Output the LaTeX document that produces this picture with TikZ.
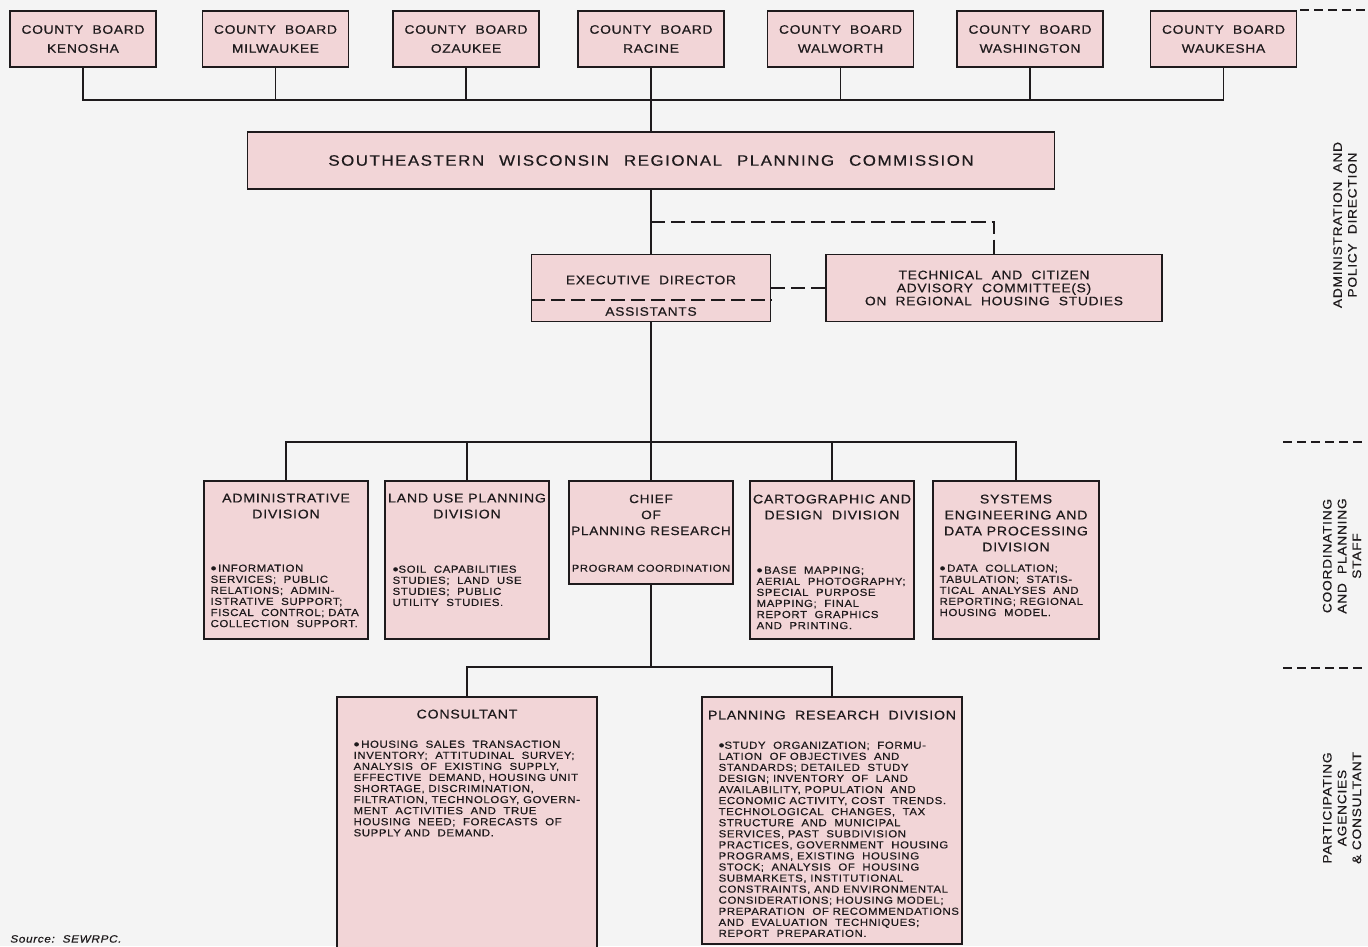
\documentclass[tikz,border=0pt]{standalone}
\usepackage{fontspec}
\setmainfont{Liberation Sans}
\newfontfamily\chartfont[FakeStretch=1.12,LetterSpace=6,FakeBold=0.5]{Liberation Sans}
\newfontfamily\wideletters[FakeStretch=1.12,LetterSpace=10,FakeBold=0.5]{Liberation Sans}
\newcommand{\itembullet}{\raisebox{-0.9pt}{\fontsize{8.5}{0}\selectfont•}}
\usepackage{tikz}
\usetikzlibrary{positioning, calc}
\usepackage{xcolor}
\definecolor{paperbg}{RGB}{244, 244, 244}
\definecolor{boxpink}{RGB}{242, 213, 215}
\definecolor{inkline}{RGB}{30, 26, 28}

\begin{document}
\begin{tikzpicture}[
    x=0.02cm, y=-0.02cm,
    every node/.style={font=\chartfont, text=inkline},
    orgbox/.style={draw=inkline, fill=boxpink, line width=0.85pt, inner sep=0pt},
    county/.style={orgbox, minimum width=2.92cm, minimum height=1.12cm, align=center,
      font=\chartfont\fontsize{7}{10.8}\selectfont},
    division/.style={orgbox, minimum width=3.28cm, minimum height=3.16cm},
    lowerbox/.style={orgbox, minimum width=5.2cm},
    boxtitle/.style={anchor=north, align=center, inner sep=0pt,
      font=\chartfont\fontsize{7.2}{9.1}\selectfont},
    boxbody/.style={anchor=north west, align=left, inner sep=0pt,
      font=\chartfont\fontsize{5.8}{6.3}\selectfont},
    sidelabel/.style={rotate=90, align=center, font=\chartfont\fontsize{7}{8.4}\selectfont},
    link/.style={draw=inkline, line width=0.85pt},
    advisory/.style={link, dash pattern=on 8pt off 3.4pt},
    divider/.style={draw=inkline, line width=0.8pt, dash pattern=on 5pt off 3pt}
  ]
    % Page background
    \useasboundingbox (0,0) rectangle (1368,946);
    \fill[paperbg] (0,0) rectangle (1368,946);

    % County boards
    \node[county] (ken) at (83,39)     {COUNTY\ \ BOARD\\KENOSHA};
    \node[county] (mil) at (275.5,39)  {COUNTY\ \ BOARD\\MILWAUKEE};
    \node[county] (oza) at (466,39)    {COUNTY\ \ BOARD\\OZAUKEE};
    \node[county] (rac) at (651,39)    {COUNTY\ \ BOARD\\RACINE};
    \node[county] (wal) at (840.5,39)  {COUNTY\ \ BOARD\\WALWORTH};
    \node[county] (was) at (1030,39)   {COUNTY\ \ BOARD\\WASHINGTON};
    \node[county] (wau) at (1223.5,39) {COUNTY\ \ BOARD\\WAUKESHA};

    % Commission
    \node[orgbox, minimum width=16.14cm, minimum height=1.14cm,
          font=\wideletters\fontsize{8.6}{10}\selectfont] (com) at (651,160.5)
      {SOUTHEASTERN\hspace{5pt} WISCONSIN\hspace{5pt} REGIONAL\hspace{5pt} PLANNING\hspace{5pt} COMMISSION};

    % Executive director and advisory committee
    \node[orgbox, minimum width=4.78cm, minimum height=1.34cm] (exec) at (651,288) {};
    \node[font=\chartfont\fontsize{7}{8}\selectfont, inner sep=0pt] (execT)
      at ($(exec.center)+(0,-8)$) {EXECUTIVE\ \ DIRECTOR};
    \node[font=\chartfont\fontsize{7}{8}\selectfont, inner sep=0pt] (execA)
      at ($(exec.center)+(0,23.5)$) {ASSISTANTS};
    \draw[advisory] ($(exec.south west)+(0,-22)$) -- ($(exec.south east)+(0,-22)$);

    \node[orgbox, minimum width=6.72cm, minimum height=1.34cm, align=center,
          font=\chartfont\fontsize{7}{7.4}\selectfont] (adv) at (994,288)
      {TECHNICAL\ \ AND\ \ CITIZEN\\ADVISORY\ \ COMMITTEE(S)\\ON\ \ REGIONAL\ \ HOUSING\ \ STUDIES};

    % Coordinating and planning staff
    \node[division] (adm) at (286,560) {};
    \node[division] (land) at (467,560) {};
    \node[orgbox, minimum width=3.28cm, minimum height=2.06cm] (chief) at (651,532.5) {};
    \node[division] (carto) at (832,560) {};
    \node[division, minimum width=3.32cm] (sys) at (1016,560) {};

    \node[boxtitle] (admT) at ($(adm.north)+(0,13)$) {ADMINISTRATIVE\\DIVISION};
    \node[boxtitle] (landT) at ($(land.north)+(0,13)$) {LAND USE PLANNING\\DIVISION};
    \node[boxtitle, font=\chartfont\fontsize{6.9}{9.1}\selectfont] (chiefT)
      at ($(chief.north)+(0,14)$) {CHIEF\\OF\\PLANNING RESEARCH};
    \node[font=\chartfont\fontsize{5.7}{7}\selectfont, inner sep=0pt] (chiefP)
      at ($(chief.north)+(0,88)$) {PROGRAM\ COORDINATION};
    \node[boxtitle] (cartoT) at ($(carto.north)+(0,14)$) {CARTOGRAPHIC AND\\DESIGN\ \ DIVISION};
    \node[boxtitle] (sysT) at ($(sys.north)+(0,14)$) {SYSTEMS\\ENGINEERING AND\\DATA PROCESSING\\DIVISION};

    \node[boxbody] (admB) at ($(adm.north west)+(7,84)$)
      {\itembullet\,INFORMATION\\SERVICES;\ \ PUBLIC\\RELATIONS;\ \ ADMIN-\\ISTRATIVE\ \ SUPPORT;\\FISCAL\ \ CONTROL;\ DATA\\COLLECTION\ \ SUPPORT.};
    \node[boxbody] (landB) at ($(land.north west)+(8,85)$)
      {\itembullet SOIL\ \ CAPABILITIES\\STUDIES;\ \ LAND\ \ USE\\STUDIES;\ \ PUBLIC\\UTILITY\ \ STUDIES.};
    \node[boxbody] (cartoB) at ($(carto.north west)+(7,86)$)
      {\itembullet\,BASE\ \ MAPPING;\\AERIAL\ \ PHOTOGRAPHY;\\SPECIAL\ \ PURPOSE\\MAPPING;\ \ FINAL\\REPORT\ \ GRAPHICS\\AND\ \ PRINTING.};
    \node[boxbody] (sysB) at ($(sys.north west)+(7,84)$)
      {\itembullet\,DATA\ \ COLLATION;\\TABULATION;\ \ STATIS-\\TICAL\ \ ANALYSES\ \ AND\\REPORTING;\ REGIONAL\\HOUSING\ \ MODEL.};

    % Participating agencies and consultant
    \node[lowerbox, minimum height=5.1cm] (cons) at (467,824.5) {};
    \node[lowerbox, minimum height=4.94cm] (res) at (832,820.5) {};

    \node[boxtitle] (consT) at ($(cons.north)+(0,13)$) {CONSULTANT};
    \node[boxtitle] (resT) at ($(res.north)+(0,14)$) {PLANNING\ \ RESEARCH\ \ DIVISION};

    \node[boxbody] (consB) at ($(cons.north west)+(17,44)$)
      {\itembullet\,HOUSING\ \ SALES\ \ TRANSACTION\\INVENTORY;\ \ ATTITUDINAL\ \ SURVEY;\\ANALYSIS\ \ OF\ \ EXISTING\ \ SUPPLY,\\EFFECTIVE\ \ DEMAND,\ HOUSING\ UNIT\\SHORTAGE,\ DISCRIMINATION,\\FILTRATION,\ TECHNOLOGY,\ GOVERN-\\MENT\ \ ACTIVITIES\ \ AND\ \ TRUE\\HOUSING\ \ NEED;\ \ FORECASTS\ \ OF\\SUPPLY\ AND\ \ DEMAND.};
    \node[boxbody] (resB) at ($(res.north west)+(17,45)$)
      {\itembullet STUDY\ \ ORGANIZATION;\ \ FORMU-\\LATION\ \ OF OBJECTIVES\ \ AND\\STANDARDS;\ DETAILED\ \ STUDY\\DESIGN;\ INVENTORY\ \ OF\ \ LAND\\AVAILABILITY,\ POPULATION\ \ AND\\ECONOMIC ACTIVITY,\ COST\ \ TRENDS.\\TECHNOLOGICAL\ \ CHANGES,\ \ TAX\\STRUCTURE\ \ AND\ \ MUNICIPAL\\SERVICES,\ PAST\ \ SUBDIVISION\\PRACTICES,\ GOVERNMENT\ \ HOUSING\\PROGRAMS,\ EXISTING\ \ HOUSING\\STOCK;\ \ ANALYSIS\ \ OF\ \ HOUSING\\SUBMARKETS,\ INSTITUTIONAL\\CONSTRAINTS,\ AND\ ENVIRONMENTAL\\CONSIDERATIONS;\ HOUSING\ MODEL;\\PREPARATION\ \ OF\ RECOMMENDATIONS\\AND\ \ EVALUATION\ \ TECHNIQUES;\\REPORT\ \ PREPARATION.};

    % Connectors
    \coordinate (topbus) at (651,100);
    \coordinate (advsplit) at (651,222);
    \coordinate (midbus) at (651,442);
    \coordinate (lowbus) at (651,667);

    \draw[link] (ken.south) |- (topbus) -| (wau.south);
    \foreach \c in {mil,oza,wal,was}
      \draw[link] (\c.south) -- (\c.south |- topbus);
    \draw[link] (rac.south) -- (com.north);
    \draw[link] (com.south) -- (exec.north);
    \draw[advisory] (advsplit) -| (adv.north);
    \draw[advisory] (exec.east) -- (adv.west);

    \draw[link] (exec.south) -- (chief.north);
    \draw[link] (adm.north) |- (midbus) -| (sys.north);
    \foreach \d in {land,carto}
      \draw[link] (\d.north) -- (\d.north |- midbus);

    \draw[link] (chief.south) -- (lowbus);
    \draw[link] (cons.north) |- (lowbus) -| (res.north);

    % Side labels
    \draw[divider] (1300,10) -- (1368,10);
    \draw[divider] (1283,442) -- (1362,442);
    \draw[divider] (1283,668) -- (1362,668);
    \node[sidelabel] (lblAdmin) at (1345,225) {ADMINISTRATION\ \ AND\\POLICY\ \ DIRECTION};
    \node[sidelabel] (lblStaff) at (1342,556) {COORDINATING\\AND\ \ PLANNING\\STAFF};
    \node[sidelabel] (lblPart) at (1342,808) {PARTICIPATING\\AGENCIES\\\&\ CONSULTANT};

    % Source
    \node[anchor=south west, inner sep=0pt, font=\chartfont\itshape\fontsize{6}{7}\selectfont]
      (src) at (10,943) {Source:\ \ SEWRPC.};
\end{tikzpicture}
\end{document}
